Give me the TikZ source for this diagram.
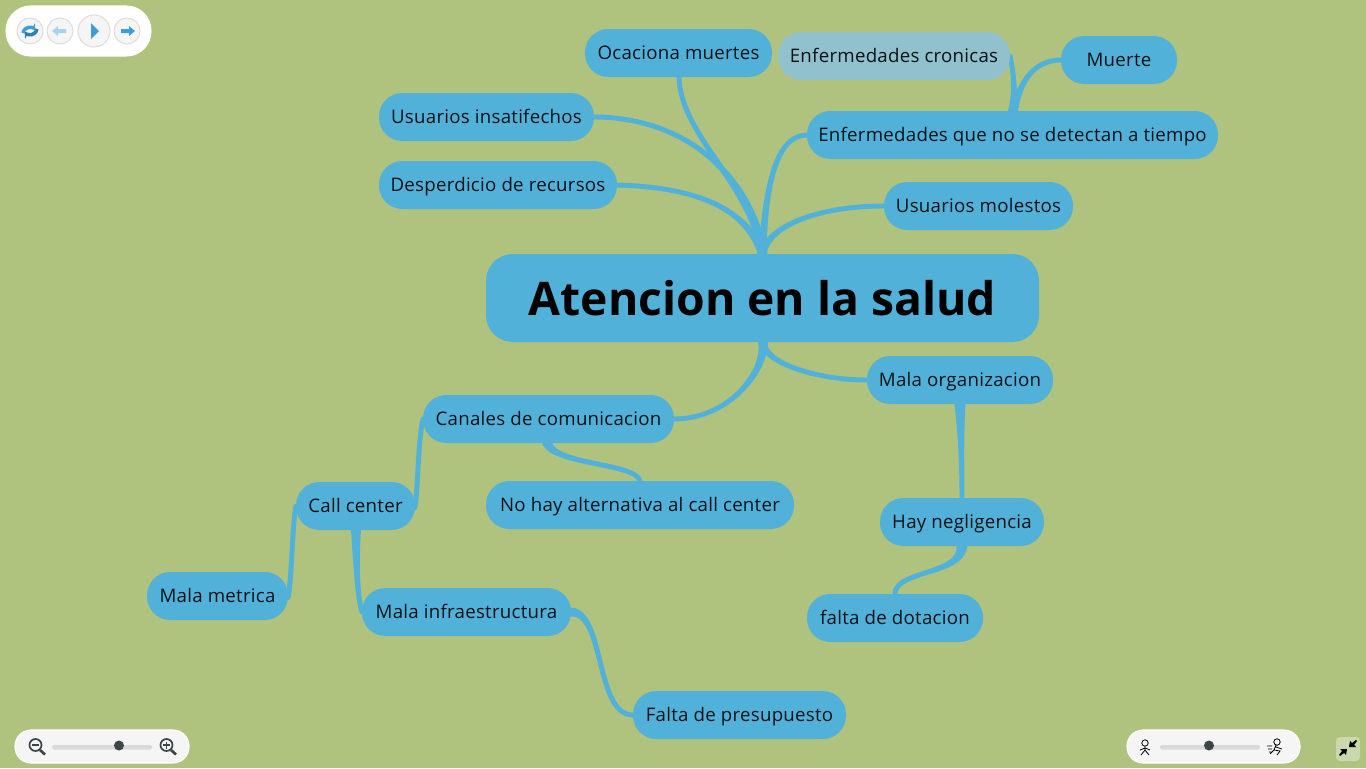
\documentclass[tikz,border=0pt]{standalone}
\usepackage{fontspec}
\setmainfont{Open Sans}
\usetikzlibrary{calc,arrows.meta}
\definecolor{bgreen}{HTML}{AFC37E}
\definecolor{nblue}{HTML}{52B1D9}
\definecolor{nfade}{HTML}{90C1CC}
\definecolor{btnedge}{HTML}{DDDDDD}
\definecolor{barfill}{HTML}{DADADA}
\definecolor{knobfill}{HTML}{3C4548}
\definecolor{iconblue}{HTML}{3E9BDC}
\tikzset{
  topic/.style={fill=nblue,text=black!90!nblue,font=\fontsize{14}{16}\selectfont\addfontfeature{LetterSpace=1.4},minimum height=36pt,inner sep=0pt,text height=9.5pt,text depth=0pt,rounded corners=17.5pt},
  link/.style={fill=nblue,draw=nblue,line width=3.7pt,line join=round},
  pill/.style={fill=#1,draw=white,line width=.8pt,rounded corners=12pt},
  btn/.style={circle,draw=btnedge,fill=white!96!black,line width=.8pt,inner sep=0pt},
  icon/.style={fill=iconblue,draw=none},
  lens/.style={draw=knobfill,line width=1.3pt}
}
% tapered branch, fat end at #2
\newcommand{\branch}[5][3,0]{\draw[link] ($(#2)-(#1)$) .. controls (#3) and (#4) .. (#5) .. controls (#4) and (#3) .. ($(#2)+(#1)$) -- cycle;}
\begin{document}
\begin{tikzpicture}[x=.75pt,y=-.75pt]
\fill[bgreen] (0,0) rectangle (1366,768);
\useasboundingbox (0,0) rectangle (1366,768);

\coordinate (up) at (762.5,254);
\coordinate (down) at (763,342);

% branches first, nodes go on top
\branch[2.5,0]{up}{755,190}{680,135}{679,77}
\branch[2.5,0]{up}{750,170}{680,117}{594,117}
\branch[2,0]{up}{745,205}{690,187}{617,185}
\branch[1.5,0]{up}{765,190}{775,135}{807,135}
\branch[1.5,0]{up}{768,225}{820,206}{884,206}
\branch[2.5,0]{down}{766,370}{730,419}{674,419}
\branch[1.5,0]{down}{763,362}{815,380}{867,380}
\branch[3,0]{960,404}{961,440}{962,470}{962,498}
\branch[3,0]{962,546}{962,575}{895,570}{895,594}
\branch[2.5,0]{547,443}{555,465}{636,463}{640,481}
\branch[1.5,0]{1012,111}{1016,90}{1013,70}{1010,56}
\branch[1.5,0]{1014,111}{1020,80}{1035,60}{1061,60}
\branch[0,1.5]{415,506}{418,490}{418,440}{423,419}
\branch[0,1.5]{288,596}{292,580}{292,525}{296,506}
\branch[2.5,0]{356,530}{356,570}{358,600}{362,612}
\branch[0,2]{571,612}{605,612}{595,715}{633,715}

\node[topic,minimum width=553pt*.75,minimum height=66pt,text height=26.5pt,rounded corners=20pt,font=\fontsize{34.7}{40}\selectfont\bfseries,text=black] (atencion) at (762.5,298) {Atencion en la salud};
\node[topic,minimum width=187pt*.75] (ocaciona) at (678.5,53) {Ocaciona muertes};
\node[topic,minimum width=232pt*.75,fill=nfade] (cronicas) at (894,56) {Enfermedades cronicas};
\node[topic,minimum width=116pt*.75] (muerte) at (1119,60) {Muerte};
\node[topic,minimum width=215pt*.75] (insatif) at (486.5,117) {Usuarios insatifechos};
\node[topic,minimum width=411pt*.75] (detectan) at (1012.5,135) {Enfermedades que no se detectan a tiempo};
\node[topic,minimum width=238pt*.75] (desperd) at (498,185) {Desperdicio de recursos};
\node[topic,minimum width=189pt*.75] (molestos) at (978.5,206) {Usuarios molestos};
\node[topic,minimum width=186pt*.75] (organiz) at (960,380) {Mala organizacion};
\node[topic,minimum width=251pt*.75] (canales) at (548.5,419) {Canales de comunicacion};
\node[topic,minimum width=308pt*.75] (alternat) at (640,505) {No hay alternativa al call center};
\node[topic,minimum width=119pt*.75] (callc) at (355.5,506) {Call center};
\node[topic,minimum width=164pt*.75] (neglig) at (962,522) {Hay negligencia};
\node[topic,minimum width=141pt*.75] (metrica) at (217.5,596) {Mala metrica};
\node[topic,minimum width=209pt*.75] (infra) at (466.5,612) {Mala infraestructura};
\node[topic,minimum width=176pt*.75] (dotacion) at (895,618) {falta de dotacion};
\node[topic,minimum width=213pt*.75] (presup) at (739.5,715) {Falta de presupuesto};

% player buttons
\draw[pill=white,rounded corners=18.5pt] (6,6) rectangle (151,56);
\node[btn,minimum size=19.5pt] (reload) at (30,31) {};
\node[btn,minimum size=19.5pt] (prev) at (60,31) {};
\node[btn,minimum size=24pt] (play) at (94,31) {};
\node[btn,minimum size=19.5pt] (next) at (127,31) {};
\draw[iconblue,line width=2.6pt,-{Stealth[length=4pt,width=6pt]}] (23,33) arc (190:320:7);
\draw[iconblue!80!black,line width=2.6pt,-{Stealth[length=4pt,width=6pt]}] (37,29) arc (10:140:7);
\fill[iconblue!45] (52,31) -- (58,26) -- (58,29) -- (66,29) -- (66,33) -- (58,33) -- (58,36) -- cycle;
\fill[icon] (91,23) -- (99,31) -- (91,39) -- cycle;
\fill[icon] (135,31) -- (129,26) -- (129,29) -- (121,29) -- (121,33) -- (129,33) -- (129,36) -- cycle;

% zoom slider
\draw[pill=white!96!black] (15,730) rectangle (189,763);
\fill[barfill,rounded corners=1.5pt] (52,745) rectangle (152,749.5);
\node[circle,fill=knobfill,minimum size=7.5pt,inner sep=0pt] (zoomknob) at (119,745.5) {};
\draw[lens] (35.5,745) circle (6);
\draw[lens] (32,745) -- (39,745);
\draw[knobfill,line width=2pt] (40,750) -- (45,754.5);
\draw[lens] (166.5,745) circle (6);
\draw[lens] (163,745) -- (170,745) (166.5,741.5) -- (166.5,748.5);
\draw[knobfill,line width=2pt] (171,750) -- (176,754.5);

% speed slider
\draw[pill=white!96!black] (1127,730) rectangle (1300,763);
\fill[barfill,rounded corners=1.5pt] (1160,745) rectangle (1260,749.5);
\node[circle,fill=knobfill,minimum size=7.5pt,inner sep=0pt] (speedknob) at (1209,745.5) {};
\draw[black,line width=.6pt] (1145,743) circle (3.2) (1145,746) -- (1145,750) (1140,750) -- (1145,748) -- (1150,750) (1145,750) -- (1141,755) (1145,750) -- (1149,755);
\draw[black,line width=.6pt] (1277,742) circle (3.2) (1276,745) -- (1274,750) -- (1280,751) -- (1277,755) (1274,750) -- (1270,754) (1276,747) -- (1282,749) (1267,746) -- (1272,746) (1268,749) -- (1272,749) (1269,752) -- (1272,752);

% collapse button
\fill[white!35!bgreen,rounded corners=3pt] (1336,737) rectangle (1360,761);
\fill[black] (1349,747) -- (1350,741) -- (1352,743) -- (1356,740) -- (1357,741) -- (1354,745) -- (1356,747) -- cycle;
\fill[black] (1347,749) -- (1346,755) -- (1344,753) -- (1340,756) -- (1339,755) -- (1342,751) -- (1340,749) -- cycle;
\end{tikzpicture}
\end{document}
